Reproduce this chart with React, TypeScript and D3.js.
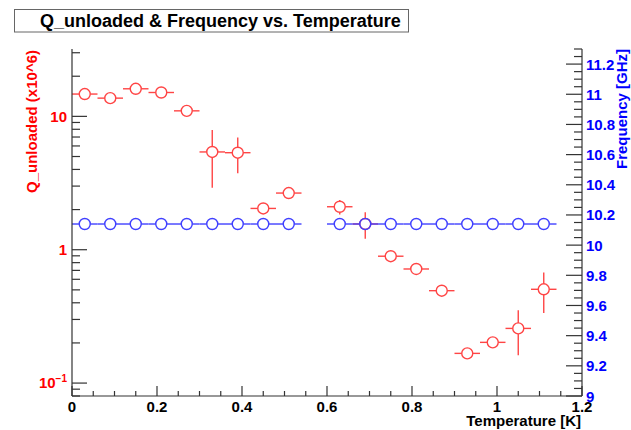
import React from "react";
import * as d3 from "d3";

const temps = [0.03, 0.09, 0.15, 0.21, 0.27, 0.33, 0.39, 0.45, 0.51, 0.63, 0.69, 0.75, 0.81, 0.87, 0.93, 0.99, 1.05, 1.11];
const qUnloaded = [14.7, 13.7, 16.1, 15.1, 11.0, 5.41, 5.34, 2.04, 2.66, 2.1, 1.56, 0.894, 0.717, 0.493, 0.167, 0.202, 0.257, 0.505];
const qErr = [0.4, 0.4, 0.5, 0.4, 0.3, 2.5, 1.6, 0.06, 0.08, 0.26, 0.35, 0.03, 0.02, 0.015, 0.005, 0.006, 0.095, 0.17];
const freq = [10.14, 10.14, 10.14, 10.14, 10.14, 10.14, 10.14, 10.14, 10.14, 10.14, 10.14, 10.14, 10.14, 10.14, 10.14, 10.14, 10.14, 10.14];
const tErr = 0.03;
const xTicks = [0, 0.2, 0.4, 0.6, 0.8, 1, 1.2];
const xTickLabels = ["0", "0.2", "0.4", "0.6", "0.8", "1", "1.2"];
const fTicks = [9, 9.2, 9.4, 9.6, 9.8, 10, 10.2, 10.4, 10.6, 10.8, 11, 11.2];
const fTickLabels = ["9", "9.2", "9.4", "9.6", "9.8", "10", "10.2", "10.4", "10.6", "10.8", "11", "11.2"];

const W = 631, H = 430;
const L = 72, R = 582, T = 49, B = 396;
const RED = "#ff4545";
const BLUE = "#4040ff";
const AX = "#333";
const FONT = "'Liberation Sans', Arial, Helvetica, sans-serif";
const MR = 5.5;

export default function App() {
  const x = d3.scaleLinear().domain([0, 1.2]).range([L, R]);
  const yq = d3.scaleLog().domain([0.08, 32]).range([B, T]);
  const yf = d3.scaleLinear().domain([9, 11.3]).range([B, T]);

  const xMinor = d3.range(0, 1.2001, 0.05).filter((v) => Math.abs(v / 0.2 - Math.round(v / 0.2)) > 1e-6);
  const fMinor = d3.range(9, 11.3001, 0.05).filter((v) => Math.abs((v - 9) / 0.2 - Math.round((v - 9) / 0.2)) > 1e-6);
  const qMinor: number[] = [];
  [0.01, 0.1, 1, 10].forEach((dec) => {
    for (let k = 2; k <= 9; k++) {
      const v = dec * k;
      if (v >= 0.08 - 1e-9 && v <= 32) qMinor.push(v);
    }
  });
  const qMajor = [0.1, 1, 10];

  const drawPoint = (cx: number, cy: number, x0: number, x1: number, yTop: number, yBot: number, color: string, key: string) => (
    <g key={key} stroke={color} strokeWidth={1.4} fill="none">
      {x0 < cx - MR && <line x1={x0} x2={cx - MR} y1={cy} y2={cy} />}
      {x1 > cx + MR && <line x1={cx + MR} x2={x1} y1={cy} y2={cy} />}
      {yTop < cy - MR && <line x1={cx} x2={cx} y1={yTop} y2={cy - MR} />}
      {yBot > cy + MR && <line x1={cx} x2={cx} y1={cy + MR} y2={yBot} />}
      <circle cx={cx} cy={cy} r={MR} fill="none" />
    </g>
  );

  return (
    <svg width={W} height={H} style={{ position: "absolute", left: 0, top: 0, background: "#fff" }} fontFamily={FONT}>
      <rect x={0} y={0} width={W} height={H} fill="#fff" />
      {/* title */}
      <rect x={14.5} y={9.5} width={394} height={22.5} fill="#fff" stroke="#666" strokeWidth={1} />
      <text x={40} y={27} fontSize={18} fontWeight="bold" fill="#000">Q_unloaded &amp; Frequency vs. Temperature</text>

      {/* red series */}
      {temps.map((t, i) =>
        drawPoint(x(t), yq(qUnloaded[i]), x(t - tErr), x(t + tErr), yq(qUnloaded[i] + qErr[i]), yq(Math.max(qUnloaded[i] - qErr[i], 1e-3)), RED, "q" + i)
      )}
      {/* blue series */}
      {temps.map((t, i) =>
        drawPoint(x(t), yf(freq[i]), x(t - tErr), x(t + tErr), yf(freq[i]), yf(freq[i]), BLUE, "f" + i)
      )}

      {/* axes lines */}
      <g stroke={AX} strokeWidth={1.2} fill="none">
        <line x1={L} x2={L} y1={T} y2={B} />
        <line x1={L} x2={R} y1={B} y2={B} />
        <line x1={R} x2={R} y1={T} y2={B} />
        {xTicks.map((v) => <line key={"xM" + v} x1={x(v)} x2={x(v)} y1={B} y2={B - 10} />)}
        {xMinor.map((v) => <line key={"xm" + v} x1={x(v)} x2={x(v)} y1={B} y2={B - 5} />)}
        {qMajor.map((v) => <line key={"qM" + v} x1={L} x2={L + 15} y1={yq(v)} y2={yq(v)} />)}
        {qMinor.map((v) => <line key={"qm" + v} x1={L} x2={L + 8} y1={yq(v)} y2={yq(v)} />)}
        {fTicks.map((v) => <line key={"fM" + v} x1={R} x2={R - 16} y1={yf(v)} y2={yf(v)} />)}
        {fMinor.map((v) => <line key={"fm" + v} x1={R} x2={R - 8} y1={yf(v)} y2={yf(v)} />)}
      </g>

      {/* x tick labels */}
      {xTicks.map((v, i) => (
        <text key={"xl" + i} x={x(v)} y={412} fontSize={15} fontWeight="bold" textAnchor="middle" fill="#000">{xTickLabels[i]}</text>
      ))}
      <text x={581} y={426} fontSize={15} fontWeight="bold" textAnchor="end" fill="#000">Temperature [K]</text>

      {/* left tick labels */}
      <text x={67} y={yq(10) + 5.5} fontSize={15} fontWeight="bold" textAnchor="end" fill="#ff0000">10</text>
      <text x={67} y={yq(1) + 5.5} fontSize={15} fontWeight="bold" textAnchor="end" fill="#ff0000">1</text>
      <text x={67} y={yq(0.1) + 5} fontSize={15} fontWeight="bold" textAnchor="end" fill="#ff0000">
        10<tspan fontSize={10} dy={-6}>−1</tspan>
      </text>
      <text transform={`translate(37,50) rotate(-90)`} fontSize={15} fontWeight="bold" textAnchor="end" fill="#ff0000">Q_unloaded (x10^6)</text>

      {/* right tick labels */}
      {fTicks.map((v, i) => (
        <text key={"fl" + i} x={586} y={yf(v) + 5.5} fontSize={15} fontWeight="bold" textAnchor="start" fill="#0000ff">{fTickLabels[i]}</text>
      ))}
      <text transform={`translate(627,49) rotate(-90)`} fontSize={15} fontWeight="bold" textAnchor="end" fill="#0000ff">Frequency [GHz]</text>
    </svg>
  );
}
